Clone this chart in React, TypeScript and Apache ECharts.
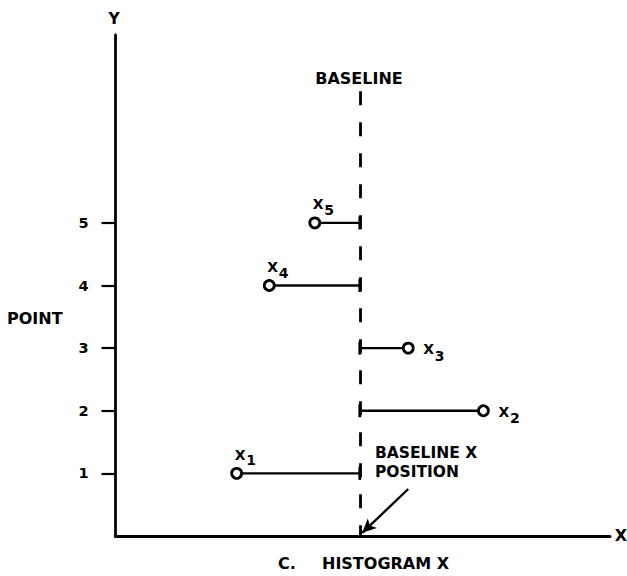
import React, { useEffect, useRef } from "react";
import * as echarts from "echarts";

// ---- data ----
const pointNames = ["1", "2", "3", "4", "5"];
const pointX = [24.5, 74.4, 59.2, 31.1, 40.3];
const pointY = [1, 2, 3, 4, 5];
const baselineX = 49.4;
const baselineTop = 7.1;
const yTickValues = [1, 2, 3, 4, 5];
const arrowFrom = [59.2, 0.75];
const arrowTo = [49.9, 0.05];

const FONT = "DejaVu Sans";

export default function App() {
  const ref = useRef<HTMLDivElement>(null);
  useEffect(() => {
    if (!ref.current) return;
    const chart = echarts.init(ref.current, null, { renderer: "svg" });
    const data = pointX.map((x, i) => [x, pointY[i], pointNames[i]]);
    const txt = (text: string, x: number, y: number, align: string, size = 16, weight: any = "bold") => ({
      type: "text",
      x,
      y,
      style: { text, fill: "#000", font: `${weight} ${size}px "${FONT}"`, align, verticalAlign: "middle" },
      silent: true,
    });
    chart.setOption({
      animation: false,
      backgroundColor: "#fff",
      grid: { left: 115.5, right: 17, top: 35, bottom: 40 },
      xAxis: {
        type: "value",
        min: 0,
        max: 100,
        axisLine: { show: true, lineStyle: { color: "#000", width: 3 } },
        axisTick: { show: false },
        axisLabel: { show: false },
        splitLine: { show: false },
      },
      yAxis: {
        type: "value",
        min: 0,
        max: 8,
        interval: 1,
        axisLine: { show: true, lineStyle: { color: "#000", width: 2.8 } },
        axisTick: { show: true, inside: false, length: 14, customValues: yTickValues, lineStyle: { color: "#000", width: 2.2 } },
        axisLabel: {
          show: true,
          customValues: yTickValues,
          margin: 27,
          color: "#000",
          fontFamily: FONT,
          fontWeight: "bold",
          fontSize: 14.5,
        },
        splitLine: { show: false },
      },
      series: [
        {
          type: "custom",
          data,
          silent: true,
          renderItem: (params: any, api: any) => {
            const x = api.value(0);
            const y = api.value(1);
            const name = pointNames[params.dataIndex];
            const p = api.coord([x, y]);
            const b = api.coord([baselineX, y]);
            const left = x < baselineX;
            const R = 5;
            const dir = left ? -1 : 1;
            const xLeft = left ? p[0] - 2 : p[0] + 15;
            const xCy = left ? p[1] - 18.5 : p[1] + 1;
            const dLeft = xLeft + 11.5;
            const dCy = left ? p[1] - 13 : p[1] + 7.5;
            return {
              type: "group",
              children: [
                {
                  type: "line",
                  shape: { x1: b[0], y1: b[1], x2: p[0] - dir * R, y2: p[1] },
                  style: { stroke: "#000", lineWidth: 2.3 },
                },
                {
                  type: "line",
                  shape: { x1: b[0], y1: b[1] - 6.5, x2: b[0], y2: b[1] + 6.5 },
                  style: { stroke: "#000", lineWidth: 2.8 },
                },
                {
                  type: "circle",
                  shape: { cx: p[0], cy: p[1], r: R },
                  style: { fill: "#fff", stroke: "#000", lineWidth: 2.8 },
                },
                {
                  type: "text",
                  x: xLeft,
                  y: xCy,
                  style: { text: "X", fill: "#000", font: `bold 14px "${FONT}"`, align: "left", verticalAlign: "middle" },
                },
                {
                  type: "text",
                  x: dLeft,
                  y: dCy,
                  style: { text: name, fill: "#000", font: `bold 14px "${FONT}"`, align: "left", verticalAlign: "middle" },
                },
              ],
            };
          },
          markLine: {
            silent: true,
            symbol: ["none", "none"],
            label: { show: false },
            emphasis: { disabled: true },
            data: [
              [
                { coord: [baselineX, baselineTop], lineStyle: { color: "#000", width: 2.8, type: [14, 17] } },
                { coord: [baselineX, 0] },
              ],
              [
                { coord: arrowFrom, symbol: "none", lineStyle: { color: "#000", width: 2.3, type: "solid" } },
                { coord: arrowTo, symbol: "arrow", symbolSize: [10, 14] },
              ],
            ],
          },
        },
      ],
      graphic: [
        txt("Y", 114, 19, "center", 15.5),
        txt("X", 621, 535, "center", 16),
        txt("POINT", 7, 318, "left", 16),
        txt("BASELINE", 359, 78, "center", 16),
        txt("BASELINE X", 375, 452.5, "left", 15.5),
        txt("POSITION", 375, 471.5, "left", 15.5),
        txt("C.", 278, 563, "left", 16),
        txt("HISTOGRAM X", 322, 563, "left", 16),
      ],
    });
    return () => chart.dispose();
  }, []);
  return <div ref={ref} style={{ position: "fixed", left: 0, top: 0, width: 627, height: 576 }} />;
}
